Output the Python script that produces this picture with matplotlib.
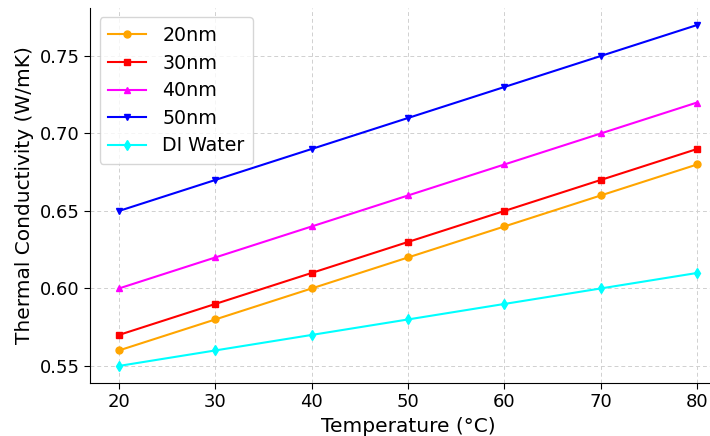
import matplotlib
matplotlib.use("Agg")
import matplotlib.pyplot as plt

temperature = [20, 30, 40, 50, 60, 70, 80]
k_20nm = [0.56, 0.58, 0.60, 0.62, 0.64, 0.66, 0.68]
k_30nm = [0.57, 0.59, 0.61, 0.63, 0.65, 0.67, 0.69]
k_40nm = [0.60, 0.62, 0.64, 0.66, 0.68, 0.70, 0.72]
k_50nm = [0.65, 0.67, 0.69, 0.71, 0.73, 0.75, 0.77]
k_water = [0.55, 0.56, 0.57, 0.58, 0.59, 0.60, 0.61]

series = [
    ("20nm", k_20nm, "orange", "o"),
    ("30nm", k_30nm, "red", "s"),
    ("40nm", k_40nm, "magenta", "^"),
    ("50nm", k_50nm, "blue", "v"),
    ("DI Water", k_water, "cyan", "d"),
]

fig = plt.figure(figsize=(7.1, 4.36), dpi=100)
ax = fig.add_axes([0.1268, 0.1216, 0.8957, 0.8601])

for label, vals, color, marker in series:
    ax.plot(temperature, vals, color=color, marker=marker, markersize=5,
            linewidth=1.5, label=label)

ax.set_xlim(17, 83)
ax.set_ylim(0.539, 0.781)
ax.set_xticks([20, 30, 40, 50, 60, 70, 80])
ax.set_yticks([0.55, 0.60, 0.65, 0.70, 0.75])
ax.tick_params(labelsize=13, length=4)
ax.set_xlabel("Temperature (°C)", fontsize=14.5)
ax.set_ylabel("Thermal Conductivity (W/mK)", fontsize=14.5)
ax.grid(True, linestyle=(0, (4, 3)), color="#d0d0d0", linewidth=0.7)
ax.spines["top"].set_visible(False)
ax.spines["right"].set_visible(False)

leg = ax.legend(loc="upper left", fontsize=13.7, frameon=True, fancybox=True,
                handlelength=2.0, borderpad=0.45, labelspacing=0.45,
                handletextpad=0.85)
leg.get_frame().set_edgecolor("#cccccc")

fig.savefig("out.png", dpi=100)
